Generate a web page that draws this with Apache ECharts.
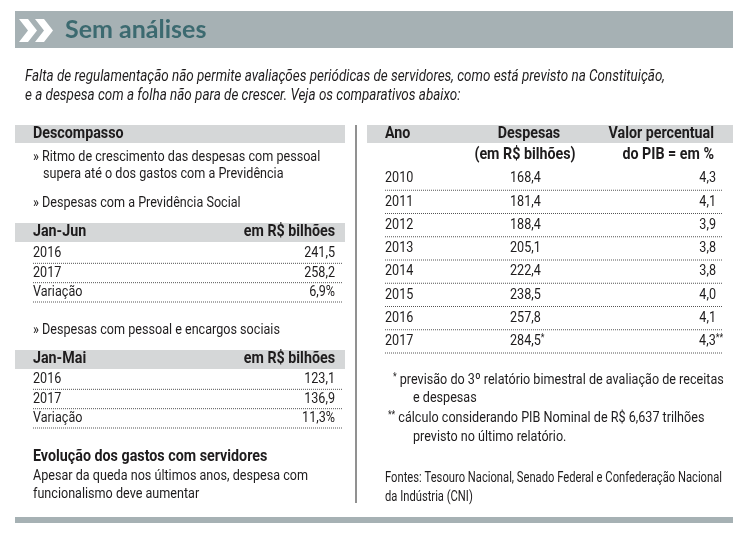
<!DOCTYPE html>
<html lang="pt-BR">
<head>
<meta charset="utf-8">
<title>Sem análises</title>
<script src="https://cdn.jsdelivr.net/npm/echarts@6/dist/echarts.min.js"></script>
<style>
  html, body { margin: 0; padding: 0; background: #fff; }
  #grafico { width: 750px; height: 540px; }
</style>
</head>
<body>
<div id="grafico"></div>
<script>
// Sem análises - despesas com pessoal x Previdência
(function () {
  // Previdência Social, Jan-Jun (R$ bilhões / %)
  const previdenciaRotulos = ["2016", "2017", "Variação"];
  const previdenciaValores = [241.5, 258.2, 6.9];
  const previdenciaSufixos = ["", "", "%"];

  // Pessoal e encargos sociais, Jan-Mai
  const pessoalRotulos = ["2016", "2017", "Variação"];
  const pessoalValores = [123.1, 136.9, 11.3];
  const pessoalSufixos = ["", "", "%"];

  // Evolução dos gastos com servidores
  const anos = ["2010", "2011", "2012", "2013", "2014", "2015", "2016", "2017"];
  const despesas = [168.4, 181.4, 188.4, 205.1, 222.4, 238.5, 257.8, 284.5];
  const despesasNotas = ["", "", "", "", "", "", "", "*"];
  const pibPercentual = [4.3, 4.1, 3.9, 3.8, 3.8, 4.0, 4.1, 4.3];
  const pibNotas = ["", "", "", "", "", "", "", "**"];

  const FONTE = "Roboto, sans-serif";
  const ESCALA = 0.84; // fonte condensada "na mão"
  const COR_TEXTO = "#1e1c1d";
  const CINZA_ESCURO = "#a6b1b4";
  const CINZA_CLARO = "#d5d7d8";

  const formata = (v) => v.toFixed(1).replace(".", ",");

  function txt(x, y, text, opts) {
    opts = opts || {};
    return {
      type: "text",
      x: x,
      y: y,
      scaleX: opts.scale || ESCALA,
      style: {
        text: text,
        x: 0,
        y: 0,
        font: opts.font || "15px " + FONTE,
        fill: opts.fill || COR_TEXTO,
        textAlign: opts.align || "left",
        textVerticalAlign: "middle",
        rich: opts.rich
      }
    };
  }

  const sup = { s: { font: "10px " + FONTE, fill: COR_TEXTO, verticalAlign: "top" } };

  function pontilhado(x1, x2, y) {
    return {
      type: "line",
      shape: { x1: x1, y1: y, x2: x2, y2: y },
      style: { stroke: "#555", lineWidth: 1, lineDash: [1, 1] }
    };
  }

  // linhas das tabelas da esquerda
  function linhaSimples(rotulos, valores, sufixos) {
    return function (params, api) {
      const i = params.dataIndex;
      const c = api.coord([0, i]);
      const h = api.size([0, 1])[1];
      const cs = params.coordSys;
      return {
        type: "group",
        children: [
          txt(cs.x, c[1], rotulos[i]),
          txt(cs.x + cs.width - 8, c[1], formata(valores[i]) + sufixos[i], { align: "right" }),
          pontilhado(cs.x, cs.x + cs.width, c[1] + h / 2)
        ]
      };
    };
  }

  function linhaAnos(params, api) {
    const i = params.dataIndex;
    const c = api.coord([0, i]);
    const h = api.size([0, 1])[1];
    const cs = params.coordSys;
    const notaD = despesasNotas[i] ? "{s|" + despesasNotas[i] + "}" : "";
    const notaP = pibNotas[i] ? "{s|" + pibNotas[i] + "}" : "";
    return {
      type: "group",
      children: [
        txt(cs.x, c[1], anos[i]),
        txt(cs.x + 125, c[1], formata(despesas[i]) + notaD, { rich: sup }),
        txt(cs.x + cs.width - 7 + (notaP ? 7 : 0), c[1], formata(pibPercentual[i]) + notaP, { align: "right", rich: sup }),
        pontilhado(cs.x, cs.x + cs.width, c[1] + h / 2)
      ]
    };
  }

  const negrito = "bold 17px " + FONTE;
  const italico = "italic 16px " + FONTE;
  const fontes = "14px " + FONTE;

  const graphic = [
    // cabeçalho
    { type: "rect", shape: { x: 15, y: 11, width: 718, height: 37 }, style: { fill: CINZA_ESCURO } },
    { type: "polygon", shape: { points: [[19, 19], [28, 19], [37, 30.5], [28, 42], [19, 42], [28, 30.5]] }, style: { fill: "#fff" } },
    { type: "polygon", shape: { points: [[35, 19], [44, 19], [53, 30.5], [44, 42], [35, 42], [44, 30.5]] }, style: { fill: "#fff" } },
    txt(65, 30, "Sem análises", { font: "bold 25px Lato, sans-serif", fill: "#3c6a70", scale: 1 }),
    txt(25, 77, "Falta de regulamentação não permite avaliações periódicas de servidores, como está previsto na Constituição,", { font: italico }),
    txt(25, 96, "e a despesa com a folha não para de crescer. Veja os comparativos abaixo:", { font: italico }),

    // coluna esquerda
    { type: "rect", shape: { x: 15, y: 125, width: 330, height: 18 }, style: { fill: CINZA_CLARO } },
    txt(33, 134, "Descompasso", { font: negrito }),
    txt(33, 157, "» Ritmo de crescimento das despesas com pessoal"),
    txt(43, 174, "supera até o dos gastos com a Previdência"),
    txt(33, 203, "» Despesas com a Previdência Social"),
    { type: "rect", shape: { x: 15, y: 223, width: 330, height: 19 }, style: { fill: CINZA_CLARO } },
    txt(33, 232, "Jan-Jun", { font: negrito }),
    txt(335, 232, "em R$ bilhões", { font: negrito, align: "right" }),
    txt(33, 330, "» Despesas com pessoal e encargos sociais"),
    { type: "rect", shape: { x: 15, y: 350, width: 330, height: 19 }, style: { fill: CINZA_CLARO } },
    txt(33, 359, "Jan-Mai", { font: negrito }),
    txt(335, 359, "em R$ bilhões", { font: negrito, align: "right" }),
    txt(33, 457, "Evolução dos gastos com servidores", { font: negrito }),
    txt(33, 476, "Apesar da queda nos últimos anos, despesa com"),
    txt(33, 494, "funcionalismo deve aumentar"),

    // divisória
    { type: "line", shape: { x1: 356, y1: 125, x2: 356, y2: 503 }, style: { stroke: "#6d6d6d", lineWidth: 1.5 } },

    // coluna direita
    { type: "rect", shape: { x: 367, y: 125, width: 366, height: 18 }, style: { fill: CINZA_CLARO } },
    txt(385, 134, "Ano", { font: negrito }),
    txt(529, 134, "Despesas", { font: negrito, align: "center" }),
    txt(525, 155, "(em R$ bilhões)", { font: negrito, align: "center" }),
    txt(714, 134, "Valor percentual", { font: negrito, align: "right" }),
    txt(714, 155, "do PIB = em %", { font: negrito, align: "right" }),
    txt(393, 380, "{s|*} previsão do 3º relatório bimestral de avaliação de receitas", { rich: sup }),
    txt(413, 398, "e despesas"),
    txt(388, 418, "{s|**} cálculo considerando PIB Nominal de R$ 6,637 trilhões", { rich: sup }),
    txt(413, 437, "previsto no último relatório."),
    txt(385, 478, "Fontes: Tesouro Nacional, Senado Federal e Confederação Nacional", { font: fontes, scale: 0.8 }),
    txt(385, 497, "da Indústria (CNI)", { font: fontes, scale: 0.8 }),

    // rodapé
    { type: "rect", shape: { x: 15, y: 517, width: 718, height: 6 }, style: { fill: CINZA_ESCURO } }
  ];

  const eixoX = (i) => ({ type: "value", gridIndex: i, min: 0, max: 1, show: false });
  const eixoY = (i, dados) => ({ type: "category", gridIndex: i, data: dados, inverse: true, show: false });

  const option = {
    animation: false,
    grid: [
      { left: 33, top: 244, width: 310, height: 58 },
      { left: 33, top: 370, width: 310, height: 58 },
      { left: 385, top: 167, width: 338, height: 186 }
    ],
    xAxis: [eixoX(0), eixoX(1), eixoX(2)],
    yAxis: [eixoY(0, previdenciaRotulos), eixoY(1, pessoalRotulos), eixoY(2, anos)],
    graphic: graphic,
    series: [
      {
        type: "custom",
        xAxisIndex: 0,
        yAxisIndex: 0,
        renderItem: linhaSimples(previdenciaRotulos, previdenciaValores, previdenciaSufixos),
        data: previdenciaValores.map((v, i) => [0, i, v])
      },
      {
        type: "custom",
        xAxisIndex: 1,
        yAxisIndex: 1,
        renderItem: linhaSimples(pessoalRotulos, pessoalValores, pessoalSufixos),
        data: pessoalValores.map((v, i) => [0, i, v])
      },
      {
        type: "custom",
        xAxisIndex: 2,
        yAxisIndex: 2,
        renderItem: linhaAnos,
        data: despesas.map((v, i) => [0, i, v, pibPercentual[i]])
      }
    ]
  };

  const chart = echarts.init(document.getElementById("grafico"));
  chart.setOption(option);
  window.addEventListener("resize", () => chart.resize());
})();
</script>
</body>
</html>
